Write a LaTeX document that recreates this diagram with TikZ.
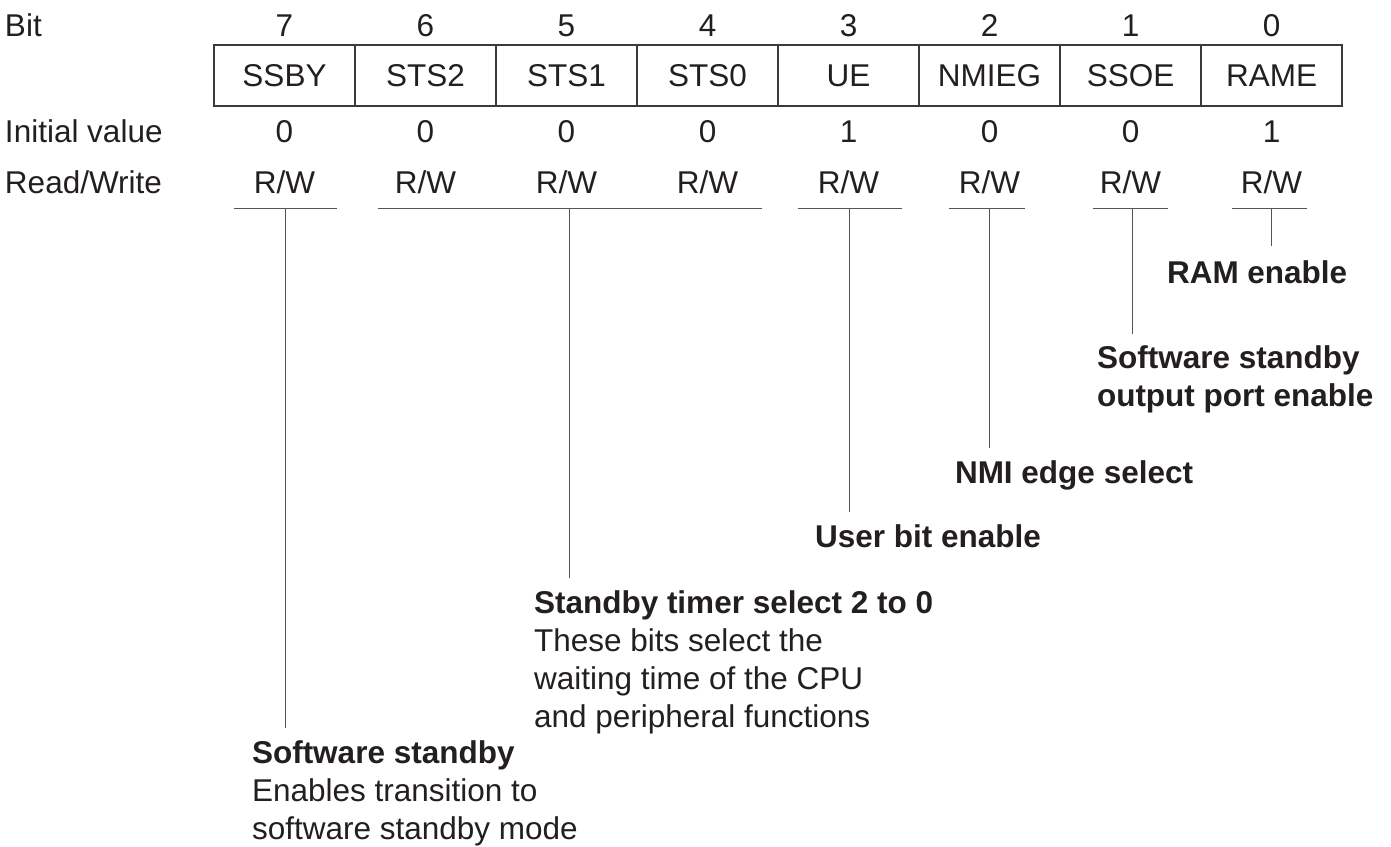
\documentclass[tikz,border=0pt]{standalone}
\usepackage{fontspec}
\setmainfont{Liberation Sans}
\definecolor{ink}{HTML}{231F20}
\definecolor{framec}{HTML}{3A3A3A}
\definecolor{leadc}{HTML}{555555}
\newcommand{\fsz}{\fontsize{31.5}{38}\selectfont}
\begin{document}
\begin{tikzpicture}[x=1pt,y=-1pt,
  every node/.style={inner sep=0pt, outer sep=0pt, text=ink, font=\fsz},
  cell/.style={draw=framec, line width=1.2pt, minimum width=141pt, minimum height=61pt},
  val/.style={anchor=base},
  rowhead/.style={anchor=base west},
  title/.style={anchor=base west, align=left, font=\fsz\bfseries},
  desc/.style={anchor=base west, align=left},
  lead/.style={draw=leadc, line width=1pt}]
\useasboundingbox (0,0) rectangle (1391,846);

% row heads
\node[rowhead] (hbit) at (5,36) {Bit};
\node[rowhead] (hinit) at (5,142) {Initial value};
\node[rowhead] (hrw) at (5,193) {Read/Write};

% bit numbers, register cells, initial values, R/W
\foreach \i/\x/\name/\v in {7/284.5/SSBY/0, 6/425.5/STS2/0, 5/566.5/STS1/0, 4/707.5/STS0/0,
                         3/848.5/UE/1, 2/989.5/NMIEG/0, 1/1130.5/SSOE/0, 0/1271.5/RAME/1}{
  \node[val] (n\i) at (\x,36) {\i};
  \node[cell] (c\i) at (\x,75.5) {\name};
  \node[val] (v\i) at (\x,142) {\v};
  \node[val] (rw\i) at (\x,193) {R/W};
}

% underlines
\coordinate (a7) at (234,208);  \coordinate (b7) at (337,208);
\coordinate (a5) at (378,208);  \coordinate (b5) at (762,208);
\coordinate (a3) at (798,208);  \coordinate (b3) at (902,208);
\coordinate (a2) at (949,208);  \coordinate (b2) at (1025,208);
\coordinate (a1) at (1093,208); \coordinate (b1) at (1168,208);
\coordinate (a0) at (1232,208); \coordinate (b0) at (1307,208);
\foreach \k in {7,5,3,2,1,0}{\draw[lead] (a\k) -- (b\k);}

% stems
\coordinate (s7) at (285,208);  \coordinate (e7) at (285,728);
\coordinate (s5) at (569,208);  \coordinate (e5) at (569,578);
\coordinate (s3) at (849,208);  \coordinate (e3) at (849,512);
\coordinate (s2) at (989,208);  \coordinate (e2) at (989,448);
\coordinate (s1) at (1132,208); \coordinate (e1) at (1132,334);
\coordinate (s0) at (1271,208); \coordinate (e0) at (1271,246);
\foreach \k in {7,5,3,2,1,0}{\draw[lead] (s\k) -- (e\k);}

% labels (base anchor = baseline of the last line)
\node[title] (l0) at (1167,283) {RAM enable};
\node[title] (l1) at (1097,406) {Software standby\\output port enable};
\node[title] (l2) at (955,483) {NMI edge select};
\node[title] (l3) at (815,547) {User bit enable};
\node[desc] (l5) at (534,727) {\textbf{Standby timer select 2 to 0}\\These bits select the\\waiting time of the CPU\\and peripheral functions};
\node[desc] (l7) at (252,839) {\textbf{Software standby}\\Enables transition to\\software standby mode};
\end{tikzpicture}
\end{document}
